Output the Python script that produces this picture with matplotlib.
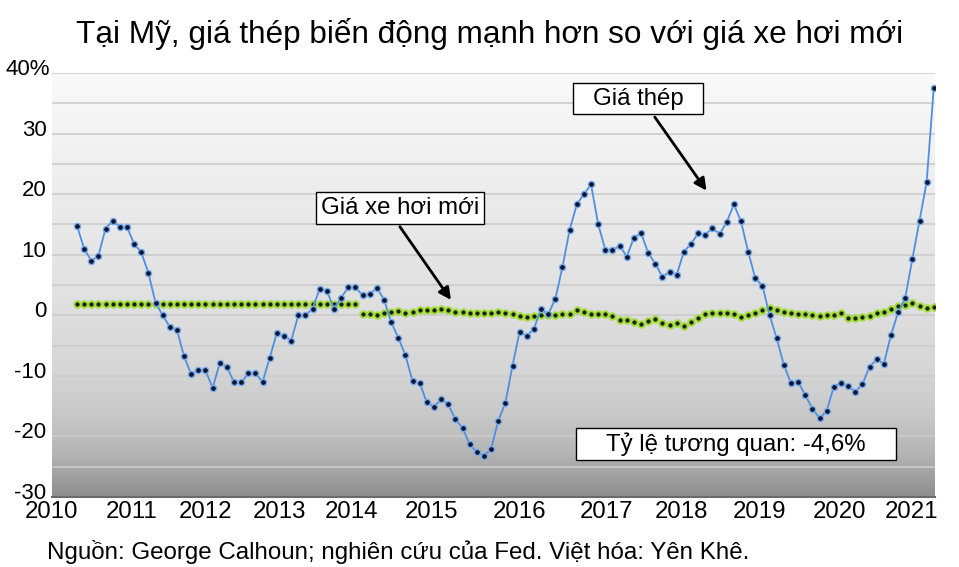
import numpy as np
import matplotlib
matplotlib.use("Agg")
import matplotlib.pyplot as plt
from matplotlib.colors import LinearSegmentedColormap
from matplotlib.patches import Rectangle
from matplotlib.transforms import ScaledTranslation

plt.rcParams['font.family'] = ['Liberation Sans', 'DejaVu Sans']

# Giá thép, % thay đổi
gia_thep = [
    14.8, 11.0, 9.0, 9.8, 14.3, 15.6, 14.6, 14.6, 11.8, 10.4,
    7.0, 2.1, 0.0, -1.9, -2.4, -6.8, -9.7, -9.1, -9.1, -12.0,
    -7.9, -8.5, -11.1, -11.1, -9.6, -9.6, -11.0, -7.0, -2.9, -3.4,
    -4.2, 0.0, 0.0, 1.1, 4.4, 4.0, 1.1, 2.9, 4.6, 4.6,
    3.3, 3.5, 4.5, 2.6, -1.1, -3.7, -6.6, -10.9, -11.2, -14.4,
    -15.1, -13.9, -14.7, -17.2, -18.6, -21.3, -22.6, -23.2, -22.1, -17.4,
    -14.5, -8.3, -2.7, -3.4, -2.2, 1.0, 0.2, 2.7, 8.0, 14.1,
    18.3, 20.0, 21.6, 15.0, 10.8, 10.7, 11.5, 9.7, 12.8, 13.6,
    10.3, 8.5, 6.3, 7.2, 6.7, 10.5, 11.8, 13.5, 13.3, 14.4,
    13.4, 15.4, 18.3, 15.5, 10.5, 6.1, 4.9, 0.0, -3.8, -8.2,
    -11.2, -11.0, -13.2, -15.4, -17.0, -15.8, -11.8, -11.2, -11.7, -12.6,
    -11.4, -8.5, -7.3, -8.0, -3.3, 0.5, 2.9, 9.3, 15.6, 22.0,
    37.6,
]

# Giá xe hơi mới, % thay đổi
gia_xe = [1.8] * 40 + [
    0.2, 0.2, 0.1, 0.4, 0.55, 0.65, 0.3, 0.55, 0.8, 0.8,
    0.9, 1.0, 0.8, 0.6, 0.55, 0.3, 0.3, 0.3, 0.3, 0.55,
    0.4, 0.2, -0.1, -0.3, -0.1, 0.1, 0.0, 0.1, 0.2, 0.2,
    0.9, 0.5, 0.2, 0.2, 0.2, -0.1, -0.7, -0.8, -1.05, -1.4,
    -0.9, -0.55, -1.2, -1.6, -1.2, -1.8, -1.1, -0.5, 0.2, 0.3,
    0.4, 0.4, 0.2, -0.3, 0.0, 0.3, 0.8, 1.15, 0.9, 0.6,
    0.3, 0.15, 0.15, 0.05, -0.1, 0.0, 0.05, 0.3, -0.4, -0.5,
    -0.3, -0.2, 0.4, 0.6, 1.1, 1.5, 1.7, 2.0, 1.5, 1.15,
    1.4,
]

nam = ['2010', '2011', '2012', '2013', '2014', '2015', '2016',
       '2017', '2018', '2019', '2020', '2021']
vi_tri_nam = [-3.5, 7.7, 18.0, 28.3, 38.5, 49.6, 62.0, 74.2, 84.6, 95.6, 106.8, 116.9]

y_ticks = [-30, -20, -10, 0, 10, 20, 30, 40]
y_labels = ['-30', '-20', '-10', '0', '10', '20', '30', '40%']

x = np.arange(len(gia_thep))

fig = plt.figure(figsize=(9.59, 5.67), dpi=100)
ax = fig.add_axes([0.0542, 0.1235, 0.921, 0.7478])
ax.set_xlim(-3.46, 120.2)
ax.set_ylim(-30, 40)

# nền chuyển màu
nen = LinearSegmentedColormap.from_list('nen', [
    (0.0, '#8e8e8e'), (0.1, '#b4b4b4'), (0.19, '#c8c8c8'),
    (0.3, '#d6d6d6'), (0.5, '#e2e2e2'), (0.77, '#efefef'), (1.0, '#fafafa')])
grad = np.linspace(0, 1, 256).reshape(-1, 1)
ax.imshow(grad, cmap=nen, origin='lower', aspect='auto',
          extent=[-3.46, 120.2, -30, 40], zorder=0)

for g in np.arange(-25, 41, 5):
    ax.axhline(g, color='#cccccc', lw=1.2, zorder=1)

ax.plot(x, gia_thep, color='#4f8fe0', lw=1.3, marker='o', ms=4.4,
        mfc='#0c1530', mec='#76aaee', mew=1.0, zorder=4)
ax.plot(x, gia_xe, ls='none', marker='o', ms=4.6,
        mfc='#18240a', mec='#a6dc40', mew=1.5, zorder=3)

for s in ['top', 'right', 'left']:
    ax.spines[s].set_visible(False)
ax.spines['bottom'].set_color('#6a6a6a')
ax.spines['bottom'].set_linewidth(1.5)
ax.spines['bottom'].set_zorder(5)

ax.set_yticks(y_ticks)
ax.set_yticklabels(y_labels, fontsize=16)
ax.set_xticks(vi_tri_nam)
ax.set_xticklabels(nam, fontsize=17.3)
ax.tick_params(axis='both', length=0)
ax.tick_params(axis='y', pad=4)
ax.tick_params(axis='x', pad=3)
dich = ScaledTranslation(0, 6 / 100, fig.dpi_scale_trans)
for lb in ax.get_yticklabels():
    lb.set_transform(lb.get_transform() + dich)
# nhãn 40% lệch phải một chút như hình gốc
nhan_dau = ax.get_yticklabels()[-1]
nhan_dau.set_transform(nhan_dau.get_transform() + ScaledTranslation(4 / 100, 0, fig.dpi_scale_trans))


def hop(x0, x1, y0, y1, chu):
    ax.add_patch(Rectangle((x0, y0), x1 - x0, y1 - y0, facecolor='white',
                           edgecolor='black', lw=1.0, zorder=6))
    ax.text((x0 + x1) / 2, (y0 + y1) / 2, chu, fontsize=17.3,
            ha='center', va='center', zorder=7)


hop(69.5, 87.7, 33.2, 38.3, 'Giá thép')
ax.annotate('', xy=(88.4, 20.2), xytext=(80.7, 33.1),
            arrowprops=dict(arrowstyle='-|>', color='black', lw=2,
                            mutation_scale=18), zorder=6)

hop(33.5, 57.0, 15.0, 20.3, 'Giá xe hơi mới')
ax.annotate('', xy=(52.6, 2.15), xytext=(45.0, 15.0),
            arrowprops=dict(arrowstyle='-|>', color='black', lw=2,
                            mutation_scale=18), zorder=6)

hop(69.9, 114.7, -23.9, -18.6, 'Tỷ lệ tương quan: -4,6%')

fig.text(0.511, 0.94, 'Tại Mỹ, giá thép biến động mạnh hơn so với giá xe hơi mới',
         fontsize=22.7, ha='center', va='center')
fig.text(0.049, 0.027, 'Nguồn: George Calhoun; nghiên cứu của Fed. Việt hóa: Yên Khê.',
         fontsize=17.4, ha='left', va='center')

fig.savefig('out.png', dpi=100)
